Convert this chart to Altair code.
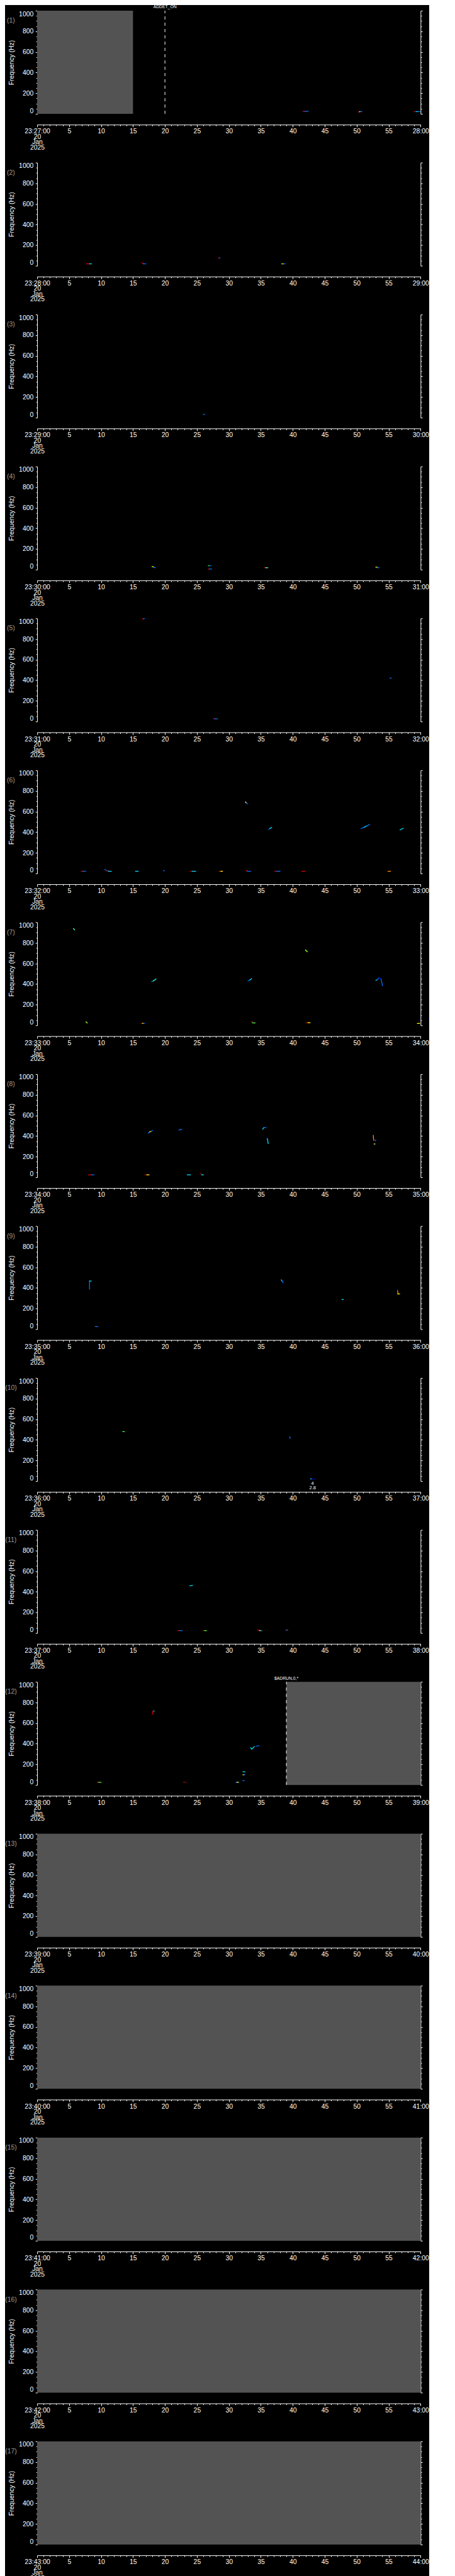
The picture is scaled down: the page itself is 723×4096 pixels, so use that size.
import altair as alt
import pandas as pd

S = 0.705
W = 864.3 * S
H = 232.7 * S
PITCH = 341.3 * S
FONT = "Liberation Sans"

# ---------------- data ----------------
panel_ids = list(range(1, 18))
start_labels = ["23:27:00", "23:28:00", "23:29:00", "23:30:00", "23:31:00", "23:32:00",
                "23:33:00", "23:34:00", "23:35:00", "23:36:00", "23:37:00", "23:38:00",
                "23:39:00", "23:40:00", "23:41:00", "23:42:00", "23:43:00"]
end_labels = ["28:00", "29:00", "30:00", "31:00", "32:00", "33:00", "34:00", "35:00", "36:00",
              "37:00", "38:00", "39:00", "40:00", "41:00", "42:00", "43:00", "44:00"]
date_lines = ["20", "Jan", "2025"]

time_ticks = [0, 1, 2, 3, 4, 5, 6, 7, 8, 9, 10, 11, 12, 13, 14, 15, 16, 17, 18, 19, 20,
              21, 22, 23, 24, 25, 26, 27, 28, 29, 30, 31, 32, 33, 34, 35, 36, 37, 38, 39, 40,
              41, 42, 43, 44, 45, 46, 47, 48, 49, 50, 51, 52, 53, 54, 55, 56, 57, 58, 59, 60]
freq_ticks = [0, 50, 100, 150, 200, 250, 300, 350, 400, 450, 500, 550, 600, 650, 700, 750,
              800, 850, 900, 950, 1000]

# grey "no data" blocks
gray_panel = [1, 12, 13, 14, 15, 16, 17]
gray_t0 = [0, 39, 0, 0, 0, 0, 0]
gray_t1 = [15, 60, 60, 60, 60, 60, 60]

# dashed event markers
event_panel = [1, 12]
event_t = [20, 39]
event_text = ["ADDET_ON", "$ADRUN,0,*"]

# small annotations below panel 10
note_panel = [10, 10]
note_t = [43.1, 43.1]
note_text = ["4", "2.8"]

R, DR, O, Y, G, C, B, DB = ("#e00000", "#a00000", "#ff8c00", "#ffff00", "#40ff40",
                            "#00e0ff", "#0070ff", "#0000d8")

# spectrogram traces: (panel, t0 [s], f0 [Hz], t1 [s], f1 [Hz], colour)
traces_p1 = [(1, 41.6, 24, 41.9, 24, R), (1, 41.9, 24, 42.4, 24, B),
             (1, 50.3, 18, 50.45, 18, R), (1, 50.45, 22, 50.6, 22, Y),
             (1, 50.6, 22, 50.8, 22, B), (1, 58.9, 22, 59.3, 22, DR),
             (1, 59.3, 22, 59.6, 22, C), (1, 59.6, 22, 59.9, 22, B)]
traces_p2 = [(2, 7.7, 19, 8.2, 19, R), (2, 8.2, 19, 8.5, 19, C),
             (2, 16.4, 29, 16.6, 22, R), (2, 16.6, 19, 17.0, 19, B),
             (2, 28.4, 75, 28.5, 75, R), (2, 28.5, 75, 28.6, 75, B),
             (2, 38.3, 19, 38.55, 19, Y), (2, 38.55, 19, 38.8, 19, B)]
traces_p3 = [(3, 26.0, 32, 26.2, 32, B)]
traces_p4 = [(4, 18.0, 29, 18.2, 29, Y), (4, 18.2, 22, 18.5, 19, B),
             (4, 26.8, 38, 26.95, 38, G), (4, 26.95, 38, 27.2, 38, B),
             (4, 26.8, 6, 26.95, 6, R), (4, 26.95, 6, 27.3, 6, B),
             (4, 35.6, 19, 35.8, 19, R), (4, 35.8, 19, 35.95, 19, Y),
             (4, 35.95, 19, 36.1, 19, C), (4, 53.0, 24, 53.2, 24, Y),
             (4, 53.2, 19, 53.5, 19, B)]
traces_p5 = [(5, 16.5, 993, 16.65, 995, R), (5, 16.65, 998, 16.8, 998, B),
             (5, 55.2, 421, 55.4, 421, B), (5, 27.6, 29, 27.8, 29, R),
             (5, 27.8, 26, 28.2, 26, B)]
traces_p6 = [(6, 6.9, 21, 7.2, 21, R), (6, 7.2, 21, 7.6, 21, B),
             (6, 10.6, 38, 10.9, 27, B), (6, 10.9, 25, 11.15, 25, R),
             (6, 11.15, 21, 11.6, 21, C), (6, 15.4, 21, 15.8, 21, C),
             (6, 19.75, 27, 19.9, 27, B), (6, 24.0, 21, 24.3, 21, R),
             (6, 24.3, 21, 24.8, 21, C), (6, 28.5, 21, 28.75, 21, R),
             (6, 28.75, 21, 29.0, 21, Y), (6, 32.7, 27, 32.9, 27, R),
             (6, 32.9, 21, 33.4, 21, B), (6, 37.2, 21, 37.5, 21, R),
             (6, 37.5, 21, 38.0, 21, B), (6, 41.4, 21, 41.9, 21, R),
             (6, 54.9, 21, 55.3, 21, O), (6, 32.6, 693, 32.75, 683, Y),
             (6, 32.75, 683, 32.9, 675, B), (6, 36.25, 427, 36.45, 437, B),
             (6, 36.45, 437, 36.7, 446, C), (6, 50.7, 436, 51.2, 448, B),
             (6, 51.2, 448, 51.6, 462, C), (6, 51.6, 462, 52.0, 475, B),
             (6, 56.8, 424, 57.3, 438, C)]
traces_p7 = [(7, 5.7, 938, 5.78, 931, Y), (7, 5.78, 931, 5.85, 925, C),
             (7, 7.65, 34, 7.75, 28, Y), (7, 7.75, 28, 7.85, 24, G),
             (7, 16.3, 19, 16.5, 19, R), (7, 16.5, 19, 16.65, 19, Y),
             (7, 16.65, 19, 16.8, 19, B), (7, 17.9, 426, 18.15, 428, B),
             (7, 18.15, 430, 18.4, 440, G), (7, 18.4, 440, 18.6, 451, C),
             (7, 33.0, 432, 33.3, 440, B), (7, 33.3, 440, 33.55, 453, C),
             (7, 33.55, 34, 33.7, 34, R), (7, 33.7, 24, 34.1, 24, G),
             (7, 42.0, 731, 42.15, 720, Y), (7, 42.15, 720, 42.3, 714, G),
             (7, 42.1, 26, 42.4, 26, R), (7, 42.4, 26, 42.7, 26, Y),
             (7, 53.0, 437, 53.2, 440, C), (7, 53.2, 440, 53.5, 464, B),
             (7, 53.5, 464, 53.8, 450, DB), (7, 53.8, 450, 54.05, 386, B),
             (7, 59.5, 19, 59.85, 19, Y)]
traces_p8 = [(8, 17.4, 427, 17.6, 440, B), (8, 17.6, 440, 17.85, 444, Y),
             (8, 17.85, 444, 18.05, 454, B), (8, 22.2, 459, 22.6, 464, B),
             (8, 35.3, 467, 35.5, 483, C), (8, 35.5, 483, 35.8, 483, B),
             (8, 35.95, 374, 36.05, 374, B), (8, 36.05, 370, 36.15, 328, C),
             (8, 52.6, 406, 52.65, 358, O), (8, 52.65, 358, 52.85, 358, R),
             (8, 52.85, 358, 53.0, 358, B), (8, 52.7, 323, 52.78, 323, B),
             (8, 52.78, 323, 52.85, 323, Y), (8, 8.0, 24, 8.5, 24, R),
             (8, 8.5, 24, 8.9, 24, B), (8, 16.9, 24, 17.2, 24, R),
             (8, 17.2, 24, 17.5, 24, Y), (8, 23.5, 24, 24.0, 24, C),
             (8, 25.6, 35, 25.75, 30, R), (8, 25.75, 24, 26.0, 24, C)]
traces_p9 = [(9, 8.2, 467, 8.2, 390, B), (9, 8.2, 467, 8.45, 467, C),
             (9, 9.1, 26, 9.5, 26, B), (9, 38.2, 478, 38.35, 465, C),
             (9, 38.35, 465, 38.5, 451, B), (9, 47.7, 288, 47.9, 288, C),
             (9, 56.4, 374, 56.45, 342, O), (9, 56.45, 342, 56.7, 342, Y)]
traces_p10 = [(10, 13.4, 480, 13.65, 480, G), (10, 39.5, 430, 39.6, 416, B),
              (10, 42.8, 22, 43.0, 22, C), (10, 43.0, 22, 43.4, 22, DB)]
traces_p11 = [(11, 23.9, 458, 24.3, 462, C), (11, 22.0, 24, 22.3, 24, R),
              (11, 22.3, 24, 22.7, 24, B), (11, 26.0, 24, 26.2, 24, R),
              (11, 26.2, 24, 26.5, 24, G), (11, 34.5, 29, 34.8, 29, R),
              (11, 34.8, 24, 35.0, 24, Y), (11, 35.0, 24, 35.2, 24, B),
              (11, 38.9, 29, 39.05, 29, R), (11, 39.05, 29, 39.2, 29, B)]
traces_p12 = [(12, 18.2, 717, 18.3, 717, C), (12, 18.05, 712, 18.1, 685, R),
              (12, 33.4, 360, 33.6, 349, C), (12, 33.6, 349, 34.0, 373, C),
              (12, 34.3, 376, 34.7, 381, B), (12, 32.2, 128, 32.5, 128, C),
              (12, 32.2, 99, 32.35, 99, Y), (12, 32.35, 99, 32.5, 99, B),
              (12, 32.2, 42, 32.4, 42, B), (12, 9.4, 26, 9.65, 26, R),
              (12, 9.65, 26, 10.0, 26, G), (12, 22.9, 26, 23.3, 26, DR),
              (12, 31.1, 26, 31.3, 26, B), (12, 31.3, 26, 31.5, 26, Y)]

all_traces = (traces_p1 + traces_p2 + traces_p3 + traces_p4 + traces_p5 + traces_p6 +
              traces_p7 + traces_p8 + traces_p9 + traces_p10 + traces_p11 + traces_p12)

seg_df = pd.DataFrame(all_traces, columns=["panel", "t0", "f0", "t1", "f1", "color"])
gray_df = pd.DataFrame({"panel": gray_panel, "t0": gray_t0, "t1": gray_t1})
event_df = pd.DataFrame({"panel": event_panel, "t": event_t, "label": event_text})
note_df = pd.DataFrame({"panel": note_panel, "t": note_t, "label": note_text})
base_df = pd.DataFrame({"t": [0], "f": [0]})

xscale = alt.Scale(domain=[0, 60], nice=False, zero=False)
yscale = alt.Scale(domain=[0, 1000], nice=False, zero=False)

major_t = "datum.value % 5 == 0"
major_f = "datum.value % 200 == 0"


def panel_chart(i):
    k = panel_ids[i]
    start = start_labels[i]
    end = end_labels[i]
    date_arr = ", ".join("'%s'" % s for s in date_lines)
    x_label_expr = (
        f"datum.value == 0 ? ['{start}', {date_arr}] : "
        f"(datum.value == 60 ? '{end}' : ({major_t} ? '' + datum.value : ''))"
    )
    x_axis = alt.Axis(
        values=time_ticks, labelExpr=x_label_expr, orient="bottom", offset=17.1,
        tickSize={"condition": {"test": major_t, "value": 3.5}, "value": 2.0},
        labelFlush=False, labelOverlap=False, labelPadding=2.2, labelLineHeight=8.5,
        labelFont=FONT, labelFontSize=10.4, labelColor="white", labelBaseline="top",
        domainColor="white", tickColor="white", domainWidth=1, tickWidth=1,
        title=None, grid=False,
    )
    y_axis_left = alt.Axis(
        values=freq_ticks, format="d", labelExpr=f"{major_f} ? datum.label : ''",
        orient="left",
        tickSize={"condition": {"test": major_f, "value": 2.8}, "value": 1.7},
        labelFlush=True, labelOverlap=False, labelPadding=3.5,
        labelFont=FONT, labelFontSize=10.4, labelColor="white",
        domainColor="white", tickColor="white", domainWidth=1, tickWidth=1,
        title="Frequency (Hz)", titleFont=FONT, titleFontSize=10.4,
        titleFontWeight="normal", titleColor="white", titleAngle=270,
        titleAlign="center", titleBaseline="middle", titleX=-40.0, titleY=H / 2,
        grid=False,
    )
    y_axis_right = alt.Axis(
        values=freq_ticks, orient="right", labels=False,
        tickSize={"condition": {"test": major_f, "value": 2.8}, "value": 1.7},
        domainColor="white", tickColor="white", domainWidth=1, tickWidth=1,
        title=None, grid=False,
    )

    base = alt.Chart(base_df).mark_point(opacity=0).encode(
        x=alt.X("t:Q", scale=xscale, axis=x_axis),
        y=alt.Y("f:Q", scale=yscale, axis=y_axis_left),
    )
    right = alt.Chart(base_df).mark_point(opacity=0).encode(
        x=alt.X("t:Q", scale=xscale, axis=None),
        y=alt.Y("f:Q", scale=yscale, axis=y_axis_right),
    )
    layers = [base]

    if k in gray_panel:
        layers.append(
            alt.Chart(gray_df).transform_filter(alt.datum.panel == k)
            .transform_calculate(lo="0", hi="1000")
            .mark_rect(color="#535353")
            .encode(
                x=alt.X("t0:Q", scale=xscale, axis=None), x2="t1:Q",
                y=alt.Y("lo:Q", scale=yscale, axis=None), y2="hi:Q",
            )
        )

    if (seg_df["panel"] == k).any():
        layers.append(
            alt.Chart(seg_df).transform_filter(alt.datum.panel == k)
            .mark_rule(strokeWidth=1.3, strokeCap="square")
            .encode(
                x=alt.X("t0:Q", scale=xscale, axis=None), x2="t1:Q",
                y=alt.Y("f0:Q", scale=yscale, axis=None), y2="f1:Q",
                color=alt.Color("color:N", scale=None, legend=None),
            )
        )

    if k in event_panel:
        ev = alt.Chart(event_df).transform_filter(alt.datum.panel == k).transform_calculate(
            lo="0", hi="1000")
        layers.append(
            ev.mark_rule(color="white", strokeWidth=1, strokeDash=[5, 5]).encode(
                x=alt.X("t:Q", scale=xscale, axis=None),
                y=alt.Y("lo:Q", scale=yscale, axis=None), y2="hi:Q",
            )
        )
        layers.append(
            ev.mark_text(color="white", font=FONT, fontSize=6.8, align="center",
                         baseline="middle", dy=-5.6).encode(
                x=alt.X("t:Q", scale=xscale, axis=None),
                y=alt.Y("hi:Q", scale=yscale, axis=None),
                text="label:N",
            )
        )

    if k in note_panel:
        nd = alt.Chart(note_df).transform_filter(alt.datum.panel == k).transform_calculate(
            lo="0")
        layers.append(
            nd.transform_filter(alt.datum.label == note_text[0])
            .mark_text(color="white", font=FONT, fontSize=7.5, align="center",
                       baseline="middle", dy=4.0)
            .encode(x=alt.X("t:Q", scale=xscale, axis=None),
                    y=alt.Y("lo:Q", scale=yscale, axis=None), text="label:N")
        )
        layers.append(
            nd.transform_filter(alt.datum.label == note_text[1])
            .mark_text(color="white", font=FONT, fontSize=7.5, align="center",
                       baseline="middle", dy=11.0)
            .encode(x=alt.X("t:Q", scale=xscale, axis=None),
                    y=alt.Y("lo:Q", scale=yscale, axis=None), text="label:N")
        )

    layers.append(
        alt.Chart(pd.DataFrame({"lab": ["(%d)" % k]})).mark_text(
            color="#9a9a9a", font=FONT, fontSize=10.4, align="center", baseline="middle"
        ).encode(x=alt.value(-41.6), y=alt.value(16.2), text="lab:N")
    )
    layers.append(right)

    return (alt.layer(*layers)
            .resolve_axis(x="independent", y="independent")
            .properties(width=W, height=H))


panels = [panel_chart(i) for i in range(len(panel_ids))]

chart = alt.vconcat(*panels, spacing=PITCH - H, bounds="flush").properties(
    padding={"left": 0, "top": 0, "right": 0, "bottom": 0}
).configure(background="black").configure_view(stroke=None)

chart.save("out.html", embed_options={"renderer": "svg", "actions": False})
